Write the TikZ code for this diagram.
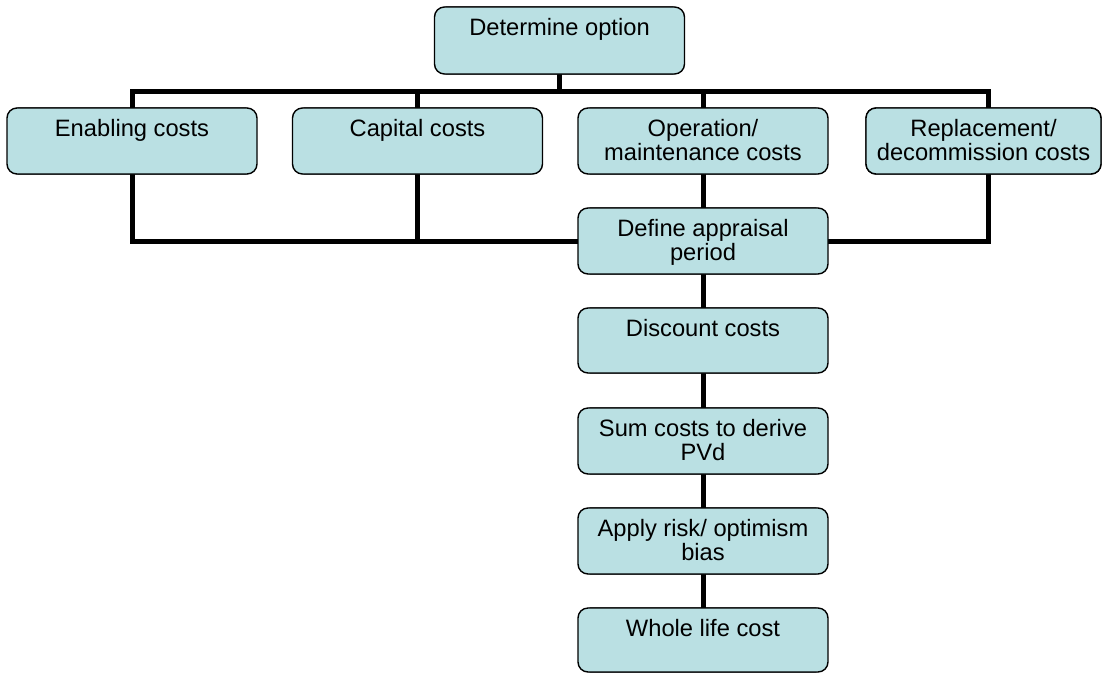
\documentclass[tikz,border=0pt]{standalone}
\usepackage{fontspec}
\setmainfont{Liberation Sans}
\definecolor{boxfill}{RGB}{186,224,227}
\newcommand{\boxtext}[2]{\parbox[c][#1][t]{250pt}{\centering\rule{0pt}{27pt}#2}}
\tikzset{
  stepbox/.style={draw=black, line width=1.4pt, fill=boxfill, rounded corners=10pt,
    inner sep=0pt, font=\fontsize{23.7}{24.5}\selectfont},
  conn/.style={draw=black, line width=5pt, line cap=rect, line join=miter}
}
\begin{document}
\begin{tikzpicture}[x=1pt, y=-1pt]
\useasboundingbox (0,0) rectangle (1103,673);
% helper coordinates for the bus lines
\coordinate (busT) at (0,91);
\coordinate (busB) at (0,241);
\coordinate (repx) at (988,141);
% nodes (drawn first only to get anchors; boxes overdrawn below)
\begin{scope}[every node/.style={stepbox}]
\node[minimum width=245pt, minimum height=67pt] (det) at (559.5,40.5) {};
\node[minimum width=246pt, minimum height=66pt] (enab) at (132,141) {};
\node[minimum width=245pt, minimum height=66pt] (cap) at (417.5,141) {};
\node[minimum width=244pt, minimum height=66pt] (op) at (703,141) {};
\node[minimum width=235pt, minimum height=66pt] (rep) at (983.5,141) {};
\node[minimum width=244pt, minimum height=66pt] (def) at (703,241) {};
\node[minimum width=244pt, minimum height=65pt] (disc) at (703,340.5) {};
\node[minimum width=244pt, minimum height=66pt] (sum) at (703,441) {};
\node[minimum width=244pt, minimum height=66pt] (apply) at (703,541) {};
\node[minimum width=244pt, minimum height=64pt] (whole) at (703,640) {};
\end{scope}
% connectors
\draw[conn] (det.south) -- (det.south |- busT);
\draw[conn] (enab |- busT) -- (repx |- busT);
\draw[conn] (enab |- busT) -- (enab |- busB) -- (repx |- busB) -- (repx |- busT);
\draw[conn] (cap |- busT) -- (cap |- busB);
\draw[conn] (op |- busT) -- (op.north);
\draw[conn] (op.south) -- (def.north);
\draw[conn] (def.south) -- (disc.north);
\draw[conn] (disc.south) -- (sum.north);
\draw[conn] (sum.south) -- (apply.north);
\draw[conn] (apply.south) -- (whole.north);
% boxes with text on top of connectors
\node[stepbox, minimum width=245pt, minimum height=67pt, anchor=center] at (det) {\boxtext{65pt}{Determine option}};
\node[stepbox, minimum width=246pt, minimum height=66pt] at (enab) {\boxtext{64pt}{Enabling costs}};
\node[stepbox, minimum width=245pt, minimum height=66pt] at (cap) {\boxtext{64pt}{Capital costs}};
\node[stepbox, minimum width=244pt, minimum height=66pt] at (op) {\boxtext{64pt}{Operation/\\maintenance costs}};
\node[stepbox, minimum width=235pt, minimum height=66pt] at (rep) {\parbox[c][64pt][t]{235pt}{\centering\rule{0pt}{27pt}Replacement/\\decommission costs}};
\node[stepbox, minimum width=244pt, minimum height=66pt] at (def) {\boxtext{64pt}{Define appraisal\\period}};
\node[stepbox, minimum width=244pt, minimum height=65pt] at (disc) {\boxtext{63pt}{Discount costs}};
\node[stepbox, minimum width=244pt, minimum height=66pt] at (sum) {\boxtext{64pt}{Sum costs to derive\\PVd}};
\node[stepbox, minimum width=244pt, minimum height=66pt] at (apply) {\boxtext{64pt}{Apply risk/ optimism\\bias}};
\node[stepbox, minimum width=244pt, minimum height=64pt] at (whole) {\boxtext{62pt}{Whole life cost}};
\end{tikzpicture}
\end{document}
